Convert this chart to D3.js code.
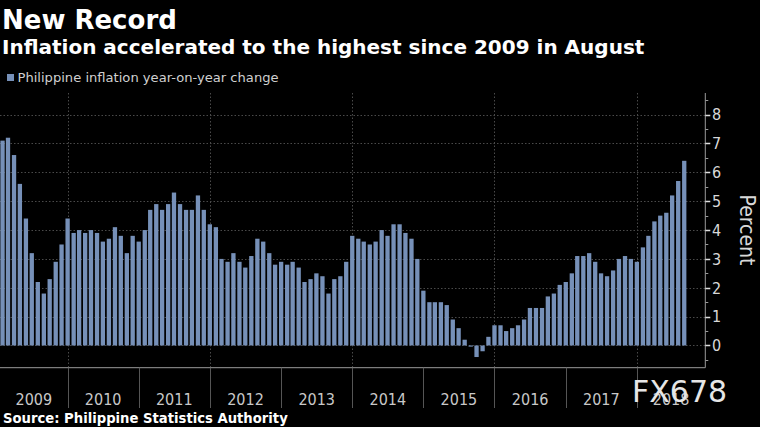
<!DOCTYPE html>
<html><head><meta charset="utf-8">
<script src="https://cdn.jsdelivr.net/npm/d3@7/dist/d3.min.js"></script>
<style>
html,body{margin:0;padding:0;background:#000;}
svg{display:block;}
text{font-family:'DejaVu Sans Condensed','DejaVu Sans',sans-serif;font-stretch:condensed;}
text.wide{font-family:'DejaVu Sans',sans-serif;font-stretch:normal;}
</style>
</head><body>
<svg id="chart" width="760" height="427"></svg>
<script>
// ---- data ----
const title = "New Record";
const subtitle = "Inflation accelerated to the highest since 2009 in August";
const legendLabel = "Philippine inflation year-on-year change";
const sourceText = "Source: Philippine Statistics Authority";
const axisTitle = "Percent";
const startYear = 2009;
const yearLabels = ["2009","2010","2011","2012","2013","2014","2015","2016","2017","2018"];
const yTicks = [0,1,2,3,4,5,6,7,8];
const gridYears = [2010,2012,2014,2016,2018];
// monthly values, Jan 2009 .. Aug 2018
const inflation = [
  7.1, 7.2, 6.6, 5.6, 4.4, 3.2, 2.2, 1.8, 2.3, 2.9, 3.5, 4.4,   // 2009
  3.9, 4.0, 3.9, 4.0, 3.9, 3.6, 3.7, 4.1, 3.8, 3.2, 3.8, 3.6,   // 2010
  4.0, 4.7, 4.9, 4.7, 4.9, 5.3, 4.9, 4.7, 4.7, 5.2, 4.7, 4.2,   // 2011
  4.1, 3.0, 2.9, 3.2, 2.9, 2.7, 3.1, 3.7, 3.6, 3.2, 2.8, 2.9,   // 2012
  2.8, 2.9, 2.7, 2.2, 2.3, 2.5, 2.4, 1.8, 2.3, 2.4, 2.9, 3.8,   // 2013
  3.7, 3.6, 3.5, 3.6, 4.0, 3.8, 4.2, 4.2, 3.9, 3.7, 3.0, 1.9,   // 2014
  1.5, 1.5, 1.5, 1.4, 0.9, 0.6, 0.2, -0.04, -0.4, -0.2, 0.3, 0.7, // 2015
  0.7, 0.5, 0.6, 0.7, 0.9, 1.3, 1.3, 1.3, 1.7, 1.8, 2.1, 2.2,   // 2016
  2.5, 3.1, 3.1, 3.2, 2.9, 2.5, 2.4, 2.6, 3.0, 3.1, 3.0, 2.9,   // 2017
  3.4, 3.8, 4.3, 4.5, 4.6, 5.2, 5.7, 6.4                        // 2018
];

// ---- layout ----
const svg = d3.select("#chart");
const W = 760, H = 427;
svg.append("rect").attr("width", W).attr("height", H).attr("fill", "#000");

const plot = {left: 0, right: 705.3, top: 93, bottom: 367.7};
const barColor = "#7690b8";

// bars are placed at month end
const dates = inflation.map((v, i) => new Date(startYear, i + 1, 1));
const x = d3.scaleTime()
  .domain([new Date(startYear, 0, 1), new Date(startYear + 10, 0, 1)])
  .range([-3.5, 708]);
const y = d3.scaleLinear().domain([-0.77, 8.75]).range([plot.bottom, plot.top]);

const defs = svg.append("defs");
defs.append("clipPath").attr("id", "clip").append("rect")
  .attr("x", plot.left).attr("y", plot.top)
  .attr("width", plot.right - plot.left).attr("height", plot.bottom - plot.top);

// grid
const grid = svg.append("g");
grid.selectAll("line.h").data(yTicks).join("line")
  .attr("x1", plot.left).attr("x2", plot.right)
  .attr("y1", d => Math.round(y(d)) + 0.5).attr("y2", d => Math.round(y(d)) + 0.5)
  .attr("stroke", "#4a4a4a").attr("stroke-width", 1).attr("stroke-dasharray", "1.5,2");
grid.selectAll("line.v").data(gridYears).join("line")
  .attr("x1", d => Math.round(x(new Date(d, 0, 1))) + 0.5)
  .attr("x2", d => Math.round(x(new Date(d, 0, 1))) + 0.5)
  .attr("y1", plot.top).attr("y2", plot.bottom)
  .attr("stroke", "#4a4a4a").attr("stroke-width", 1).attr("stroke-dasharray", "1.5,2");

// bars
const bw = 4.3;
svg.append("g").attr("clip-path", "url(#clip)")
  .selectAll("rect").data(inflation).join("rect")
  .attr("x", (d, i) => x(dates[i]) - bw / 2)
  .attr("width", bw)
  .attr("y", d => y(Math.max(0, d)))
  .attr("height", d => Math.abs(y(d) - y(0)))
  .attr("fill", barColor);

// x axis
const xa = svg.append("g");
xa.append("line").attr("x1", 0).attr("x2", plot.right)
  .attr("y1", plot.bottom).attr("y2", plot.bottom)
  .attr("stroke", "#9a9a9a").attr("stroke-width", 1);
const yearStarts = yearLabels.map(s => new Date(+s, 0, 1));
xa.selectAll("line.sep").data(yearStarts.slice(1)).join("line")
  .attr("x1", d => Math.round(x(d)) + 0.5).attr("x2", d => Math.round(x(d)) + 0.5)
  .attr("y1", plot.bottom).attr("y2", 408)
  .attr("stroke", "#555").attr("stroke-width", 1);
xa.selectAll("text").data(yearLabels).join("text")
  .attr("x", (d) => {
    const a = Math.max(plot.left, x(new Date(+d, 0, 1)));
    const b = Math.min(plot.right, x(new Date(+d + 1, 0, 1)));
    return (a + b) / 2;
  })
  .attr("y", 405)
  .attr("text-anchor", "middle")
  .attr("fill", "#c8c8c8").attr("font-size", 16)
  .text(d => d);

// y axis (right)
const ya = svg.append("g");
ya.append("line").attr("x1", plot.right).attr("x2", plot.right)
  .attr("y1", plot.top).attr("y2", plot.bottom)
  .attr("stroke", "#9a9a9a").attr("stroke-width", 1);
const minor = d3.range(-0.5, 9, 1);
ya.selectAll("line.minor").data(minor).join("line")
  .attr("x1", plot.right).attr("x2", plot.right + 3)
  .attr("y1", d => Math.round(y(d)) + 0.5).attr("y2", d => Math.round(y(d)) + 0.5)
  .attr("stroke", "#9a9a9a");
ya.selectAll("line.major").data(yTicks).join("line")
  .attr("x1", plot.right).attr("x2", plot.right + 5)
  .attr("y1", d => Math.round(y(d)) + 0.5).attr("y2", d => Math.round(y(d)) + 0.5)
  .attr("stroke", "#e0e0e0").attr("stroke-width", 1.5);
ya.selectAll("text").data(yTicks).join("text")
  .attr("x", 712).attr("y", d => y(d))
  .attr("dy", "0.36em")
  .attr("fill", "#d8d8d8").attr("font-size", 16)
  .text(d => d);
svg.append("text")
  .attr("transform", "translate(748,230) rotate(90)")
  .attr("text-anchor", "middle").attr("dy", "0.36em")
  .attr("fill", "#d8d8d8").attr("font-size", 21)
  .text(axisTitle);

// titles
svg.append("text").attr("class", "wide").attr("x", 2).attr("y", 28.5)
  .attr("fill", "#fff").attr("font-size", 26).attr("font-weight", "bold")
  .text(title);
svg.append("text").attr("class", "wide").attr("x", 2).attr("y", 53.5)
  .attr("fill", "#fff").attr("font-size", 20).attr("font-weight", "bold")
  .text(subtitle);

// legend
svg.append("rect").attr("x", 7).attr("y", 74).attr("width", 7).attr("height", 7).attr("fill", barColor);
svg.append("text").attr("class", "wide").attr("x", 17.5).attr("y", 82)
  .attr("fill", "#d0d0d0").attr("font-size", 13.1)
  .text(legendLabel);

// source
svg.append("text").attr("class", "wide").attr("x", 3).attr("y", 423)
  .attr("fill", "#fff").attr("font-size", 13.2).attr("font-weight", "bold")
  .text(sourceText);

// watermark
svg.append("text").attr("class", "wide").attr("x", 632).attr("y", 402)
  .attr("fill", "#e6e6e6").attr("font-size", 30)
  .text("FX678");
</script>
</body></html>
